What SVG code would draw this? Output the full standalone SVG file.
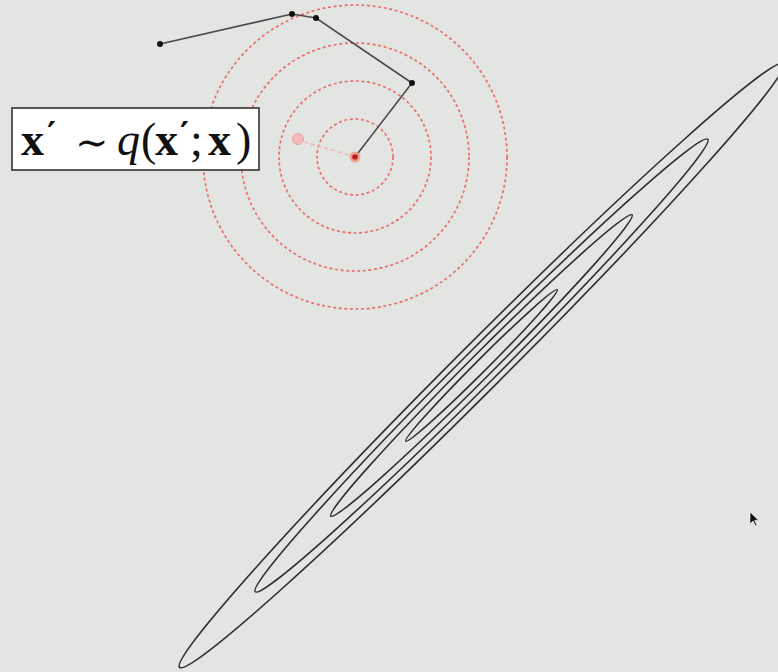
<svg xmlns="http://www.w3.org/2000/svg" width="778" height="672" viewBox="0 0 778 672">
  <defs>
    <style>
      .bg { fill: #e2e5e1; }
      .contour { fill: none; stroke: #2e2e2e; stroke-width: 1.6; }
      .prop { fill: none; stroke: #e8706c; stroke-width: 1.7; stroke-dasharray: 3 2.6; }
      .traj { fill: none; stroke: #4a4a4a; stroke-width: 1.6; }
      .pt { fill: #111; }
      .math { font-family: "Liberation Serif", "DejaVu Serif", serif; fill: #111; }
      .bx { font-weight: bold; font-size: 46px; }
      .pr { font-family: "DejaVu Serif", serif; font-weight: bold; font-size: 34px; }
    </style>
  </defs>
  <rect class="bg" x="0" y="0" width="778" height="672"/>

  <g id="target-contours" transform="translate(481.5 365.5) rotate(-45)">
    <ellipse class="contour" cx="0" cy="0" rx="427" ry="23.5"/>
    <ellipse class="contour" cx="0" cy="0" rx="320" ry="17.6"/>
    <ellipse class="contour" cx="0" cy="0" rx="213" ry="11.7"/>
    <ellipse class="contour" cx="0" cy="0" rx="107" ry="5.9"/>
  </g>

  <g id="proposal-contours">
    <circle class="prop" cx="355" cy="157" r="38"/>
    <circle class="prop" cx="355" cy="157" r="76"/>
    <circle class="prop" cx="355" cy="157" r="114"/>
    <circle class="prop" cx="355" cy="157" r="152"/>
  </g>

  <g id="connectors">
    <polyline class="traj" points="160,44 292,14 316,18 412,83 355,157"/>
    <line x1="304" y1="142" x2="349" y2="155" stroke="#f2b4b4" stroke-width="1.5" stroke-dasharray="4 3"/>
  </g>

  <g id="samples">
    <circle class="pt" cx="160" cy="44" r="3"/>
    <circle class="pt" cx="292" cy="14" r="3"/>
    <circle class="pt" cx="316" cy="18" r="3"/>
    <circle class="pt" cx="412" cy="83" r="3"/>
  </g>

  <g id="current-state">
    <circle cx="355" cy="157" r="5.5" fill="#f19a88" opacity="0.85"/>
    <circle cx="355" cy="157" r="2.8" fill="#c41e1e"/>
  </g>

  <g id="proposed-state">
    <circle cx="298" cy="139" r="5.5" fill="#f4b9b9" stroke="#e9a3a3" stroke-width="1"/>
  </g>

  <g id="label">
    <rect x="12" y="108" width="247" height="62" fill="#ffffff" stroke="#333" stroke-width="1.6"/>
    <text class="math" y="155">
      <tspan class="bx" x="21">x</tspan>
      <tspan class="pr" x="47" y="146">′</tspan>
      <tspan x="75" y="156" font-size="40">∼</tspan>
      <tspan x="117" y="155" font-size="46" font-style="italic">q</tspan>
      <tspan x="141" y="155" font-size="46">(</tspan>
      <tspan class="bx" x="155">x</tspan>
      <tspan class="pr" x="180" y="146">′</tspan>
      <tspan x="190" y="155" font-size="46">;</tspan>
      <tspan class="bx" x="208">x</tspan>
      <tspan x="236" y="155" font-size="46">)</tspan>
    </text>
  </g>

  <g id="cursor">
    <path d="M750,512 L750,524 L753,521 L755.5,526 L757,525.3 L754.6,520.4 L758.5,520.2 Z" fill="#111" stroke="#fff" stroke-width="0.6"/>
  </g>
</svg>
